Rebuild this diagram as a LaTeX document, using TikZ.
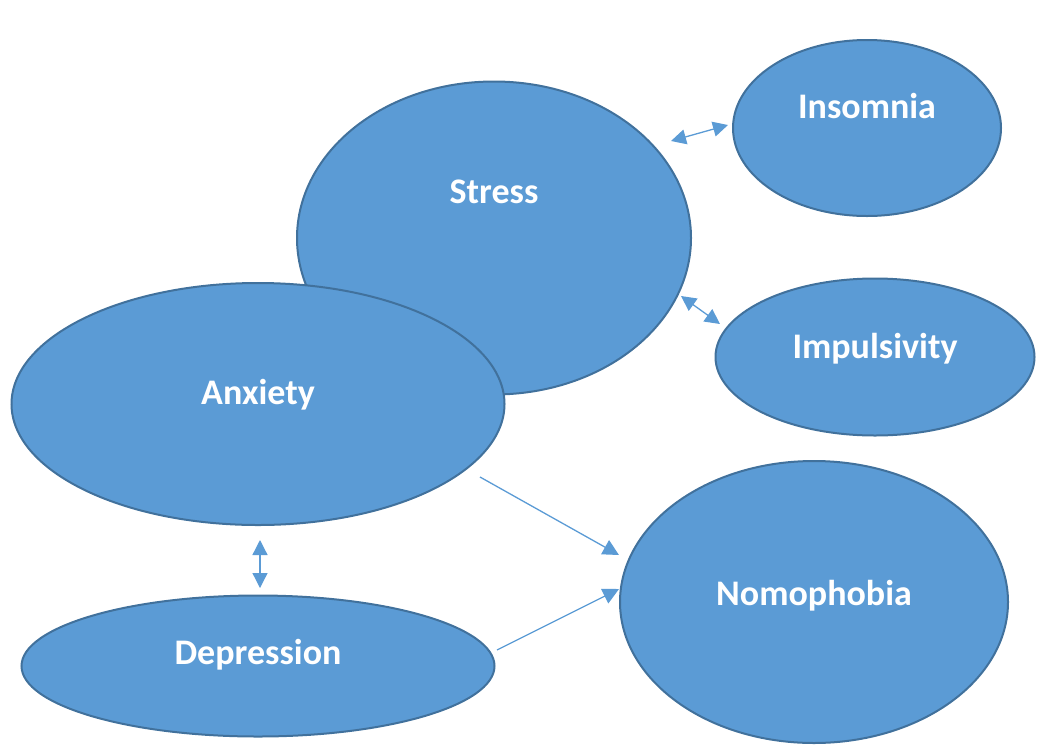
\documentclass[tikz,border=0pt]{standalone}
\usepackage{fontspec}
\setmainfont{Carlito}
\usetikzlibrary{shapes.geometric,arrows.meta}
\definecolor{fillblue}{HTML}{5B9BD5}
\definecolor{edgeblue}{HTML}{41719C}
\tikzset{
  bubble/.style={ellipse, draw=edgeblue, line width=2pt, fill=fillblue, inner sep=0pt},
  lbl/.style={text=white, font=\fontsize{36}{40}\selectfont\bfseries},
  link/.style={draw=fillblue, line width=1.3pt, -{Triangle[length=16pt,width=16pt]}},
  dlink/.style={draw=fillblue, line width=1.3pt, {Triangle[length=15pt,width=15pt]}-{Triangle[length=15pt,width=15pt]}}
}
\begin{document}
\begin{tikzpicture}[x=1pt,y=-1pt]
\useasboundingbox (0,0) rectangle (1041,745);
\node[bubble, minimum width=394pt, minimum height=313pt] (stress) at (494,238) {};
\node[lbl] (stresslbl) at (494,192) {Stress};
\node[bubble, minimum width=268pt, minimum height=176pt] (insomnia) at (867,128) {};
\node[lbl] (insomnialbl) at (867,106) {Insomnia};
\node[bubble, minimum width=319pt, minimum height=157pt] (impuls) at (875,357) {};
\node[lbl] (impulslbl) at (875,349) {Impulsivity};
\node[bubble, minimum width=493pt, minimum height=242pt] (anxiety) at (258,404) {};
\node[lbl] (anxietylbl) at (258,395) {Anxiety};
\node[bubble, minimum width=473pt, minimum height=141pt] (depr) at (258,666) {};
\node[lbl] (deprlbl) at (258,655) {Depression};
\node[bubble, minimum width=388pt, minimum height=282pt] (nomo) at (814,602) {};
\node[lbl] (nomolbl) at (814,596) {Nomophobia};
\coordinate (s1) at (671,141);
\coordinate (i1) at (728,125);
\coordinate (s2) at (681,296);
\coordinate (p1) at (720,324);
\coordinate (a1) at (260,540);
\coordinate (d1) at (260,588);
\coordinate (a2) at (480,477);
\coordinate (n1) at (619,555);
\coordinate (d2) at (497,650);
\coordinate (n2) at (619,589);
\draw[dlink] (s1) -- (i1);
\draw[dlink] (s2) -- (p1);
\draw[dlink] (a1) -- (d1);
\draw[link] (a2) -- (n1);
\draw[link] (d2) -- (n2);
\end{tikzpicture}
\end{document}
